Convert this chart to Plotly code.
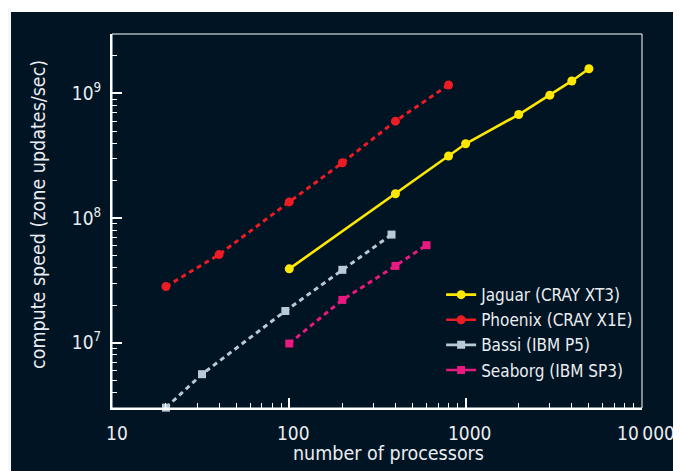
import plotly.graph_objects as go

# ---- data ----
jaguar_procs = [100, 400, 800, 1000, 2000, 3000, 4000, 5000]
jaguar_speed = [3.92e7, 1.57e8, 3.15e8, 3.95e8, 6.78e8, 9.7e8, 1.26e9, 1.58e9]

phoenix_procs = [20, 40, 100, 200, 400, 800]
phoenix_speed = [2.83e7, 5.1e7, 1.35e8, 2.78e8, 6.0e8, 1.17e9]

bassi_procs = [20, 32, 95, 200, 380]
bassi_speed = [3.02e6, 5.6e6, 1.8e7, 3.85e7, 7.38e7]

seaborg_procs = [100, 200, 400, 600]
seaborg_speed = [9.87e6, 2.21e7, 4.14e7, 6.07e7]

series_names = ["Jaguar (CRAY XT3)", "Phoenix (CRAY X1E)", "Bassi (IBM P5)", "Seaborg (IBM SP3)"]

x_tickvals = [10, 100, 1000, 10000]
x_ticktext = ["10", "100", "1000", "10\u2009000"]
y_tickvals = [1e7, 1e8, 1e9]
y_ticktext = ["10<sup>7</sup>", "10<sup>8</sup>", "10<sup>9</sup>"]

# ---- styles ----
BG = "#011423"
FG = "#ffffff"
TXT = "#e9edf1"
FONT = "DejaVu Sans Condensed, Liberation Sans, Arial, sans-serif"
YELLOW = "#ffe800"
RED = "#ec1c24"
BLUEGRAY = "#b7cad6"
MAGENTA = "#e8197f"

x_minor = [m * 10 ** d for d in range(1, 4) for m in range(2, 10)]
y_minor = [m * 10 ** d for d in range(6, 10) for m in range(2, 10)]

fig = go.Figure()

data_specs = [
    (bassi_procs, bassi_speed, series_names[2], BLUEGRAY, "square", 8, "dash"),
    (seaborg_procs, seaborg_speed, series_names[3], MAGENTA, "square", 8, "dash"),
    (phoenix_procs, phoenix_speed, series_names[1], RED, "circle", 9, "dash"),
    (jaguar_procs, jaguar_speed, series_names[0], YELLOW, "circle", 9, "solid"),
]
for xs, ys, nm, col, sym, sz, dash in data_specs:
    fig.add_trace(go.Scatter(
        x=xs, y=ys, name=nm, mode="lines+markers",
        line=dict(color=col, width=2.6 if dash == "solid" else 3,
                  dash="solid" if dash == "solid" else "5px,4px"),
        marker=dict(color=col, symbol=sym, size=sz, line=dict(width=0)),
        showlegend=False, cliponaxis=False,
    ))

# legend entries (solid sample lines)
legend_specs = [
    (series_names[0], YELLOW, "circle", 9),
    (series_names[1], RED, "circle", 9),
    (series_names[2], BLUEGRAY, "square", 8),
    (series_names[3], MAGENTA, "square", 8),
]
for nm, col, sym, sz in legend_specs:
    fig.add_trace(go.Scatter(
        x=[None], y=[None], name=nm, mode="lines+markers",
        line=dict(color=col, width=2.6),
        marker=dict(color=col, symbol=sym, size=sz, line=dict(width=0)),
        showlegend=True,
    ))

axis_common = dict(
    type="log", showgrid=False, zeroline=False,
    showline=True, linecolor=FG, linewidth=2,
    ticks="inside", ticklen=10, tickwidth=1.5, tickcolor=FG,
    tickfont=dict(family=FONT, size=19, color=TXT),
    tickmode="array",
)

# page has an 8px body margin: plot area at page x 112-642, y 34-408
fig.update_layout(
    width=681, height=471,
    margin=dict(l=104, r=47, t=26, b=71),
    paper_bgcolor=BG, plot_bgcolor=BG,
    font=dict(family=FONT, color=TXT),
    xaxis=dict(**axis_common, range=[0.995, 4.0],
               tickvals=x_tickvals, ticktext=x_ticktext,
               ticklabelstandoff=7, ticklabelshift=4,
               minor=dict(tickmode="array", tickvals=x_minor, ticks="inside",
                          ticklen=5, tickwidth=1.2, tickcolor=FG)),
    yaxis=dict(**axis_common, range=[6.4771, 9.4771],
               tickvals=y_tickvals, ticktext=y_ticktext,
               ticklabelstandoff=5,
               minor=dict(tickmode="array", tickvals=y_minor, ticks="inside",
                          ticklen=5, tickwidth=1.2, tickcolor=FG)),
    legend=dict(x=0.621, y=0.350, xanchor="left", yanchor="top",
                bgcolor="rgba(0,0,0,0)", font=dict(family=FONT, size=17, color=TXT),
                itemwidth=30, tracegroupgap=0),
    showlegend=True,
    shapes=[
        # white border bands at top and left
        dict(type="rect", xref="paper", yref="paper", x0=-0.3, x1=1.2,
             y0=(408 - 12) / 374, y1=1.2, fillcolor="#ffffff", line=dict(width=0), layer="below"),
        dict(type="rect", xref="paper", yref="paper", x0=-0.3, x1=(11 - 112) / 530,
             y0=-0.3, y1=1.2, fillcolor="#f7f7fa", line=dict(width=0), layer="below"),
        # top/right frame
        dict(type="rect", xref="paper", yref="paper", x0=0, x1=1, y0=0, y1=1,
             line=dict(color=FG, width=1), layer="above"),
    ],
    annotations=[
        dict(text="number of processors", xref="paper", yref="paper",
             x=(388 - 112) / 530, y=(408 - 453) / 374, xanchor="center", yanchor="middle",
             showarrow=False, font=dict(family=FONT, size=19.5, color=TXT)),
        dict(text="compute speed (zone updates/sec)", xref="paper", yref="paper",
             x=(38 - 112) / 530, y=(408 - 215) / 374, xanchor="center", yanchor="middle",
             textangle=-90, showarrow=False, font=dict(family=FONT, size=19.5, color=TXT)),
    ],
)

fig.write_html("out.html")
